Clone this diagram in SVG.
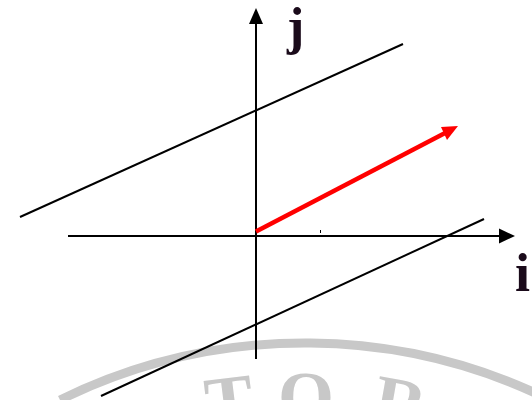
<svg xmlns="http://www.w3.org/2000/svg" width="532" height="400" viewBox="0 0 532 400">
  <style>
    .ln { stroke: #000; stroke-width: 2; fill: none; }
    .lbl { font-family: "Liberation Serif", "Times New Roman", serif; font-weight: bold; fill: #1a0a1a; }
    .wm { font-family: "Liberation Serif", "Times New Roman", serif; font-weight: bold; fill: #c8c8c8; font-size: 72px; text-anchor: middle; }
  </style>
  <rect width="532" height="400" fill="#fff"/>
  <g id="watermark">
    <path d="M 60 400 A 555 555 0 0 1 560 405" fill="none" stroke="#c8c8c8" stroke-width="9"/>
    <text class="wm" x="232" y="425" transform="rotate(-7 232 425)">T</text>
    <text class="wm" x="306" y="421">O</text>
    <text class="wm" x="396" y="427" transform="rotate(10 396 427)">R</text>
  </g>
  <g id="connectors">
    <line class="ln" x1="20" y1="217" x2="403" y2="44"/>
    <line class="ln" x1="101" y1="396" x2="484" y2="219"/>
    <line x1="320.5" y1="230" x2="320.5" y2="233" stroke="#000" stroke-width="1"/>
  </g>
  <g id="j-axis">
    <line class="ln" x1="256" y1="359" x2="256" y2="22"/>
    <polygon points="256,8 249,24 263,24" fill="#000"/>
  </g>
  <g id="i-axis">
    <line class="ln" x1="68" y1="236" x2="501" y2="236"/>
    <polygon points="515,236 499,228.5 499,243.5" fill="#000"/>
  </g>
  <g id="vector">
    <line x1="256" y1="231.5" x2="447" y2="132" stroke="#ff0000" stroke-width="4.5"/>
    <polygon points="458,126 441,127 447,140" fill="#ff0000"/>
  </g>
  <g id="label-j">
    <text class="lbl" x="287" y="44" font-size="52">j</text>
  </g>
  <g id="label-i">
    <text class="lbl" x="515" y="291" font-size="54">i</text>
  </g>
</svg>
